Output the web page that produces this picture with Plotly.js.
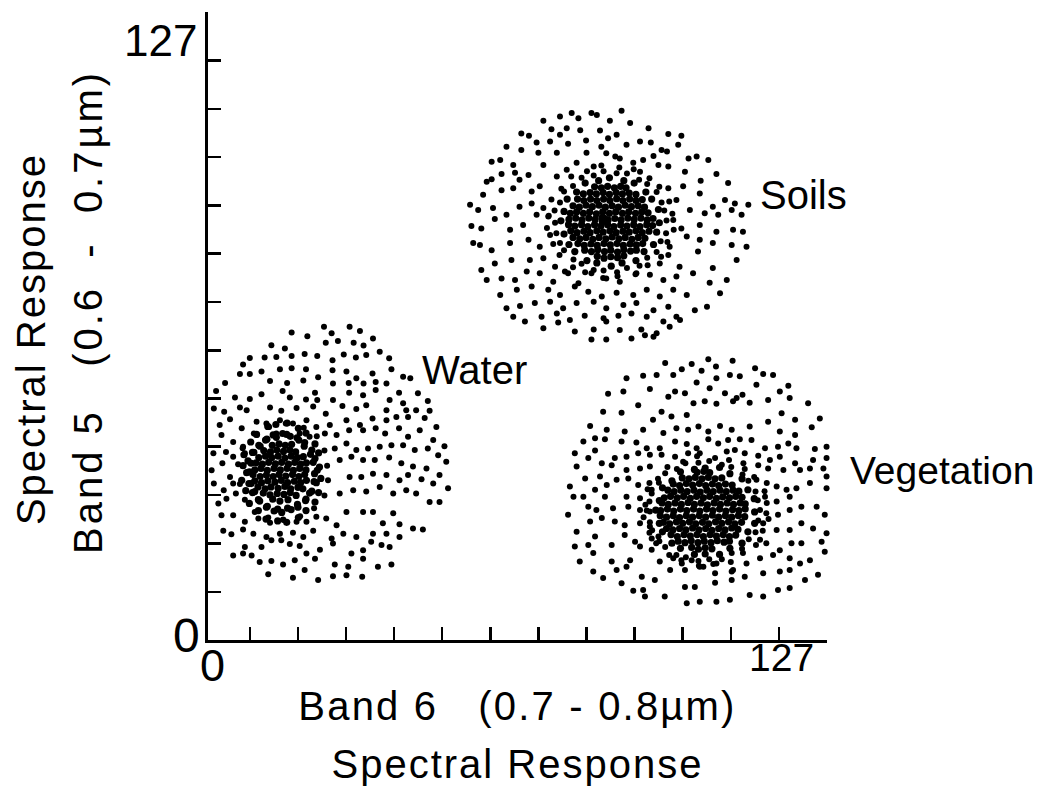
<!DOCTYPE html>
<html><head><meta charset="utf-8">
<script src="https://cdn.plot.ly/plotly-3.0.1.min.js"></script>
<style>html,body{margin:0;padding:0;background:#fff}</style>
</head><body><div id="chart" style="width:1047px;height:796px"></div>
<script>
const categories = ['Water', 'Soils', 'Vegetation'];

const waterOuterPoints = [
[25.8,66.3],[31.5,66.3],[33.8,65.4],[18.6,65.1],[22.1,64.3],[27.5,64.9],[36.7,63.8],[26.2,62.9],[28.9,63.3],[32.4,62.9],[34.6,62.3],[14.1,62.4],[17.1,61.7],[38.2,61.0],[9.3,59.7],[12.6,59.8],[15.2,59.9],[18.6,60.1],[21.5,60.5],[24.3,60.1],[27.7,59.2],[30.2,60.4],[32.9,59.8],[35.2,60.3],[40.3,59.6],[7.8,58.3],[11.9,56.8],[16.0,57.3],[18.6,57.5],[21.8,57.3],[24.5,55.6],[27.7,57.1],[30.8,56.8],[33.0,55.4],[36.6,56.4],[40.8,57.3],[43.4,55.7],[45.0,55.4],[3.8,54.4],[7.1,56.3],[9.3,56.3],[13.8,54.8],[17.6,54.4],[21.2,54.9],[27.8,54.3],[31.3,54.4],[34.6,54.3],[37.3,54.6],[39.7,54.3],[1.8,52.7],[6.0,51.3],[9.3,51.0],[11.9,52.0],[16.6,52.7],[18.2,51.3],[21.8,50.9],[23.8,52.3],[24.3,50.8],[27.8,50.8],[31.4,52.3],[34.5,51.8],[37.3,52.9],[40.4,50.8],[42.5,52.3],[46.7,52.2],[48.9,50.6],[1.3,49.0],[3.6,48.3],[7.1,49.2],[8.6,48.6],[13.8,49.2],[16.3,48.5],[19.7,49.1],[23.4,49.4],[26.2,47.9],[29.9,49.5],[33.0,48.9],[35.2,49.7],[39.7,48.6],[43.4,50.1],[44.1,48.6],[46.3,48.6],[49.3,48.5],[2.6,45.5],[4.9,46.7],[7.5,44.8],[10.8,46.2],[13.0,45.8],[16.0,46.5],[18.9,45.8],[21.9,46.5],[24.1,45.1],[27.1,45.5],[30.8,46.5],[33.8,45.5],[36.6,46.9],[39.7,46.5],[41.9,47.2],[44.5,47.2],[48.2,47.0],[50.8,45.1],[3.0,43.4],[5.6,41.9],[7.8,40.9],[10.8,43.4],[15.2,43.7],[20.4,43.7],[22.6,43.0],[26.0,43.7],[28.6,43.4],[31.4,44.4],[34.5,44.4],[37.3,44.8],[39.4,43.7],[42.5,44.8],[44.5,43.0],[47.1,44.4],[50.1,42.3],[52.6,41.0],[1.2,39.5],[4.0,39.8],[5.6,38.8],[8.2,39.5],[28.2,40.5],[30.8,41.6],[33.0,40.2],[35.6,40.5],[38.2,40.9],[40.8,41.2],[43.4,41.2],[46.0,40.2],[48.9,40.5],[51.2,39.1],[53.0,37.7],[0.8,35.9],[3.2,37.4],[4.9,34.5],[29.3,38.1],[31.9,38.8],[34.5,38.1],[37.1,38.1],[40.3,38.6],[43.0,37.4],[45.6,36.7],[48.6,36.3],[51.5,34.9],[1.3,33.1],[3.5,31.7],[5.6,33.1],[31.5,34.5],[34.1,34.5],[36.7,35.2],[39.7,34.9],[42.6,33.8],[44.5,34.9],[47.5,34.0],[50.1,33.1],[53.4,32.1],[2.3,28.9],[4.1,29.9],[6.2,31.0],[29.3,31.0],[32.3,31.7],[35.2,31.4],[38.2,32.4],[41.2,31.0],[44.1,31.7],[46.3,31.0],[49.3,29.2],[51.5,29.2],[3.0,26.4],[5.6,26.4],[8.2,25.0],[11.2,25.7],[13.8,24.8],[16.7,25.5],[19.7,25.0],[21.9,25.0],[24.1,26.1],[26.3,25.7],[28.6,24.3],[30.8,27.1],[34.5,27.1],[36.7,27.1],[38.9,24.7],[41.2,26.8],[42.6,24.5],[45.6,23.6],[47.8,23.4],[3.4,23.1],[5.2,22.4],[7.8,23.4],[10.1,22.5],[13.0,21.8],[16.0,22.5],[18.9,22.7],[21.2,21.8],[23.4,23.1],[27.5,21.5],[30.1,22.5],[33.0,21.8],[36.7,22.5],[39.7,22.5],[42.6,21.8],[5.6,17.9],[8.2,19.7],[11.9,19.7],[14.1,21.1],[16.3,21.1],[18.2,20.3],[20.4,19.9],[24.9,19.1],[27.8,20.4],[31.9,18.3],[34.5,19.0],[36.3,20.8],[38.6,20.1],[40.4,19.7],[7.8,18.3],[9.7,17.9],[11.5,16.5],[14.1,16.7],[16.7,16.0],[19.3,16.9],[21.9,18.3],[23.8,17.2],[28.2,16.0],[31.2,15.5],[34.5,17.2],[37.8,15.5],[40.8,16.0],[13.4,13.9],[18.9,13.2],[21.5,14.8],[24.5,12.7],[27.8,13.5],[30.8,13.7],[34.3,13.4],
[26.5,36.9],[25.9,40.1],[24.2,43.1],[21.3,44.9],[17.3,45.8],[13.6,45.1],[10.2,43.7],[7.7,40.6],[6.7,37.2],[7.1,33.0],[8.2,29.7],[10.4,27.1],[13.4,25.9],[16.8,25.4],[20.5,26.2],[23.6,27.9],[25.9,30.6],[26.7,33.8]
];

const waterCorePoints = [
[24.3,35.9],[23.8,38.4],[23.1,40.2],[21.5,41.8],[19.8,42.8],[17.5,43.5],[15.2,42.9],[13.1,42.5],[11.3,41.2],[9.9,39.7],[8.9,37.9],[8.6,35.4],[9.1,33.1],[9.9,31.2],[11.5,29.4],[13.2,28.3],[15.5,27.7],[17.7,27.9],[19.9,28.7],[21.7,29.5],[23.1,31.5],[24.1,33.3],
[23.7,35.2],[23.4,37.6],[22.8,39.3],[21.4,41.0],[20.2,42.3],[18.3,43.1],[16.6,43.7],[14.5,43.4],[12.8,42.3],[11.6,41.0],[10.2,39.7],[9.6,37.4],[9.2,35.6],[9.6,33.1],[10.4,31.4],[11.2,29.7],[13.0,28.1],[14.7,27.3],[16.4,27.0],[18.5,27.6],[20.0,28.1],[21.8,29.8],[22.6,31.1],[23.6,33.5],
[24.8,36.6],[24.6,39.6],[23.8,41.5],[21.8,43.8],[20.1,44.8],[17.6,45.9],[15.1,45.6],[13.3,45.2],[10.8,43.5],[9.5,41.9],[8.0,39.2],[7.8,36.9],[7.5,33.8],[8.4,31.6],[9.2,28.9],[11.2,27.4],[12.9,25.6],[15.5,25.2],[17.5,24.9],[20.1,25.9],[21.8,27.4],[23.8,29.2],[24.6,31.2],[25.1,34.2],
[14.4,29.8],[16.0,29.4],[17.8,29.7],
[12.3,31.1],[13.8,30.7],[15.4,31.0],[16.9,30.8],[18.3,31.2],[19.6,30.6],
[11.1,32.4],[12.7,32.0],[14.0,32.4],[15.6,32.1],[17.1,32.5],[18.4,32.0],[20.0,32.3],[21.1,32.0],
[10.4,33.7],[11.9,33.3],[13.3,33.7],[14.9,33.4],[16.3,33.8],[17.7,33.3],[19.2,33.6],[20.6,33.3],[21.9,33.8],
[10.0,35.0],[11.6,34.6],[13.0,34.9],[14.5,34.6],[15.8,35.0],[17.3,34.7],[18.8,35.0],[20.2,34.6],[21.5,35.0],
[10.4,36.0],[11.8,36.3],[13.2,35.9],[14.7,36.3],[16.1,36.0],[17.6,36.3],[19.0,35.9],[20.4,36.3],[21.8,36.0],
[10.7,37.5],[12.1,37.2],[13.5,37.6],[15.0,37.3],[16.4,37.6],[17.9,37.2],[19.3,37.6],[20.6,37.2],[21.9,37.5],
[11.3,38.6],[12.8,38.9],[14.2,38.6],[15.6,38.9],[17.1,38.5],[18.5,38.9],[19.9,38.6],[21.2,38.8],
[12.4,40.1],[13.9,39.8],[15.3,40.2],[16.8,39.9],[18.2,40.2],[19.5,39.8],
[14.3,41.2],[15.8,41.5],[17.2,41.2],[18.6,41.4]
];

const soilsOuterPoints = [
[92.0,112.0],[78.3,110.8],[80.9,111.5],[85.3,111.5],[86.5,111.1],[82.4,110.4],[89.4,109.9],[93.9,109.4],[74.6,109.9],[76.4,108.1],[79.8,108.3],[82.8,107.9],[87.2,107.8],[98.0,108.3],[69.7,107.2],[71.4,106.7],[78.3,106.9],[84.1,105.7],[89.0,106.2],[90.9,106.9],[102.4,107.1],[105.3,106.7],[66.4,104.4],[73.1,105.3],[76.1,105.5],[80.1,105.0],[87.5,104.4],[93.1,104.8],[96.1,105.5],[98.5,105.3],[100.9,103.7],[104.6,104.8],[63.1,101.2],[65.0,101.6],[67.9,100.5],[69.7,103.7],[73.5,103.1],[77.6,103.1],[82.0,101.0],[84.2,103.1],[88.6,103.0],[90.6,102.3],[94.6,101.0],[96.8,101.6],[99.1,102.4],[102.1,103.4],[106.9,101.9],[108.7,102.3],[111.3,101.6],[62.0,97.0],[63.1,97.5],[65.3,98.6],[68.3,98.9],[71.3,98.4],[74.6,100.5],[77.6,98.1],[79.8,99.5],[85.8,100.2],[91.6,101.9],[96.1,99.1],[100.2,100.5],[102.4,100.2],[106.1,99.1],[109.6,97.2],[113.1,98.6],[115.7,96.7],[61.2,94.2],[65.3,95.2],[67.9,95.6],[69.3,97.4],[72.0,94.9],[73.8,96.0],[102.4,95.6],[105.7,96.0],[109.4,94.5],[112.3,91.7],[115.0,93.1],[117.2,92.4],[120.2,92.1],[58.3,92.1],[60.1,91.0],[63.4,91.4],[66.4,90.0],[69.3,91.7],[72.0,92.4],[74.6,91.4],[104.2,93.1],[107.2,91.0],[110.5,90.3],[113.5,90.0],[116.5,91.0],[118.7,90.0],[58.6,87.6],[60.8,87.1],[63.8,89.1],[67.2,86.8],[70.1,87.8],[73.1,90.0],[75.7,89.6],[103.5,88.9],[105.3,87.1],[109.4,87.8],[113.1,86.4],[116.8,86.8],[119.0,86.4],[59.0,84.0],[60.5,83.6],[63.1,82.5],[67.2,84.0],[71.3,84.7],[73.8,83.2],[76.1,85.7],[102.7,83.2],[106.5,85.4],[109.4,84.7],[112.3,84.0],[116.5,83.6],[119.8,83.2],[60.8,78.3],[63.8,79.7],[67.5,80.4],[71.6,80.4],[74.6,80.8],[77.2,79.0],[80.1,77.6],[100.5,79.7],[102.4,81.5],[104.9,79.0],[109.0,82.2],[112.3,78.7],[117.6,80.4],[62.0,76.2],[65.3,76.5],[68.3,76.2],[70.9,78.0],[73.8,77.6],[76.8,75.8],[79.4,78.0],[82.4,75.5],[85.3,77.6],[88.6,76.5],[91.6,75.8],[95.3,77.6],[98.3,77.3],[101.3,76.2],[104.2,76.9],[107.9,77.6],[111.6,75.6],[115.4,76.2],[65.0,73.0],[68.7,74.1],[72.0,74.8],[75.7,74.1],[78.3,73.0],[81.6,74.8],[84.6,73.7],[87.6,72.7],[90.9,73.5],[94.6,73.0],[97.6,74.1],[100.5,72.7],[103.5,74.1],[106.5,73.0],[111.0,70.5],[113.9,73.4],[66.4,70.2],[69.4,70.7],[72.7,71.3],[76.1,71.6],[79.0,70.2],[82.0,71.3],[85.8,71.6],[88.6,70.2],[92.4,70.9],[95.3,71.3],[99.1,69.8],[102.4,70.5],[108.3,69.8],[67.9,68.4],[70.5,67.4],[74.2,68.4],[77.6,69.1],[80.5,67.7],[83.8,68.6],[88.0,68.1],[91.3,68.6],[94.2,69.1],[97.6,68.4],[101.3,67.4],[104.2,68.4],[74.6,66.0],[77.9,67.2],[81.6,65.3],[85.8,65.7],[88.6,67.4],[91.6,65.6],[96.4,65.7],[99.8,64.9],[102.7,66.3],[85.3,63.6],[88.6,63.6],[94.2,63.8],[97.2,64.5],[99.1,64.2],[105.0,67.7],
[102.0,88.8],[101.5,90.9],[100.9,92.6],[99.8,94.8],[97.7,96.5],[95.9,97.4],[93.2,98.7],[90.9,98.8],[88.0,99.2],[85.8,98.3],[83.1,97.8],[81.2,96.1],[79.2,94.9],[78.3,92.6],[77.1,90.9],[77.2,88.3],[77.5,86.1],[78.3,84.0],[79.2,82.5],[81.3,80.5],[83.1,79.6],[85.8,78.3],[88.0,78.2],[91.0,77.8],[93.2,78.7],[96.0,79.2],[97.7,80.9],[99.8,82.1],[100.7,84.4],[101.9,86.1],
[103.3,90.2],[102.6,92.8],[100.4,95.9],[98.2,97.7],[94.7,99.6],[91.5,100.0],[87.5,100.4],[84.3,99.2],[80.8,98.1],[78.6,95.5],[76.4,93.2],[75.8,89.8],[75.4,87.2],[76.8,83.8],[78.2,81.5],[81.2,78.9],[83.9,77.8],[87.9,76.6],[91.1,77.0],[95.1,77.4],[97.8,79.3],[100.8,81.1],[102.2,84.2],[103.6,86.8]
];

const soilsCorePoints = [
[100.4,88.3],[100.2,91.1],[98.7,93.3],[97.4,94.8],[94.8,96.7],[92.5,97.2],[89.3,97.8],[86.9,97.2],[83.9,96.7],[82.0,94.8],[79.9,93.3],[79.2,90.7],[78.5,88.7],[79.2,85.9],[80.3,83.7],[81.6,82.2],[84.3,80.3],[86.5,79.8],[89.7,79.1],[92.1,79.8],[95.2,80.3],[97.0,82.2],[99.1,83.7],[99.8,86.3],
[86.6,81.2],[88.1,80.8],[89.6,81.1],[91.1,80.9],[92.5,81.3],
[83.8,82.5],[85.3,82.2],[86.7,82.6],[88.2,82.2],[89.6,82.5],[91.1,82.1],[92.5,82.6],[94.0,82.3],[95.3,82.5],
[82.3,83.9],[83.7,83.5],[85.2,83.8],[86.6,83.5],[88.1,83.9],[89.5,83.6],[91.0,83.9],[92.4,83.5],[93.9,83.8],[95.3,83.6],[96.7,83.9],
[81.2,85.2],[82.7,84.9],[84.1,85.2],[85.6,84.8],[87.0,85.2],[88.5,84.9],[89.9,85.3],[91.4,84.9],[92.8,85.2],[94.3,84.8],[95.7,85.2],[97.2,85.0],
[80.7,86.6],[82.1,86.2],[83.6,86.5],[85.0,86.2],[86.5,86.6],[87.9,86.3],[89.4,86.6],[90.8,86.2],[92.3,86.5],[93.7,86.3],[95.2,86.6],[96.6,86.2],[98.1,86.5],
[80.2,87.9],[81.6,87.6],[83.1,87.9],[84.5,87.5],[86.0,87.9],[87.4,87.6],[88.9,87.9],[90.3,87.5],[91.8,87.8],[93.2,87.6],[94.7,87.9],[96.1,87.5],[97.6,87.9],[98.9,87.7],
[80.3,89.0],[81.8,89.3],[83.2,88.9],[84.7,89.3],[86.1,89.0],[87.6,89.3],[89.0,88.9],[90.5,89.2],[91.9,88.9],[93.4,89.3],[94.8,89.0],[96.3,89.3],[97.7,88.9],[99.0,89.2],
[80.6,90.3],[82.0,90.6],[83.5,90.3],[84.9,90.6],[86.4,90.2],[87.8,90.6],[89.3,90.3],[90.7,90.6],[92.2,90.3],[93.6,90.6],[95.1,90.3],[96.5,90.6],[97.9,90.4],
[81.2,91.9],[82.6,91.6],[84.1,92.0],[85.5,91.7],[87.0,92.0],[88.4,91.6],[89.9,91.9],[91.3,91.6],[92.8,92.0],[94.2,91.7],[95.7,91.9],[97.1,91.6],
[82.2,93.3],[83.6,93.0],[85.1,93.3],[86.5,93.0],[88.0,93.3],[89.4,93.0],[90.9,93.4],[92.3,93.0],[93.8,93.3],[95.2,93.0],[96.6,93.2],
[83.5,94.4],[85.0,94.7],[86.4,94.4],[87.9,94.7],[89.3,94.3],[90.8,94.7],[92.2,94.4],[93.7,94.6],[95.2,94.3],
[86.0,95.9],[87.5,95.7],[88.9,96.0],[90.4,95.7],[91.8,96.0],[93.0,95.7],
[87.7,88.6],[88.3,89.1],[87.9,89.4],[88.4,88.6]
];

const vegetationOuterPoints = [
[111.3,59.4],[116.7,59.1],[101.7,58.6],[107.6,58.4],[113.0,57.9],[105.4,57.3],[109.8,57.0],[121.7,57.5],[123.5,56.3],[125.7,56.1],[93.1,55.4],[96.8,55.9],[99.8,56.1],[103.5,56.1],[113.1,55.4],[116.1,56.1],[118.3,55.8],[108.7,54.5],[122.0,54.0],[129.1,53.8],[89.0,52.1],[92.4,52.6],[98.3,53.1],[102.4,51.5],[103.9,52.6],[106.1,52.2],[111.6,53.3],[115.0,52.2],[117.6,51.2],[118.9,51.9],[127.2,52.6],[129.4,51.2],[133.5,50.1],[87.9,48.3],[92.0,48.1],[95.7,49.7],[100.9,48.3],[103.1,47.3],[106.5,47.6],[108.0,50.1],[110.5,50.5],[113.1,50.0],[116.8,50.5],[120.5,50.2],[124.6,50.8],[127.6,48.0],[130.6,46.6],[136.1,46.9],[85.0,45.3],[88.7,44.5],[92.7,44.1],[96.8,44.5],[99.0,46.6],[101.3,43.8],[104.2,44.8],[106.8,44.5],[109.1,45.2],[111.3,44.1],[113.9,45.3],[116.5,44.5],[120.5,45.2],[124.6,46.2],[127.2,44.1],[130.6,43.4],[134.3,45.0],[83.5,42.0],[86.1,42.7],[88.3,42.5],[92.0,42.0],[95.3,41.8],[97.6,40.6],[100.5,40.6],[103.9,42.0],[106.5,41.5],[108.7,40.6],[111.3,42.5],[113.5,41.6],[115.7,42.3],[118.3,42.5],[120.9,42.3],[123.9,40.6],[126.8,40.9],[129.1,41.6],[130.9,40.6],[135.0,40.4],[137.6,40.9],[81.6,39.5],[86.1,40.1],[90.5,38.5],[93.1,38.8],[95.7,39.5],[98.3,39.2],[100.9,39.2],[103.9,38.8],[106.8,39.5],[109.4,39.5],[115.4,39.9],[117.2,40.2],[119.4,39.5],[122.4,39.0],[125.0,38.1],[127.2,38.8],[130.6,37.4],[134.6,38.1],[137.6,38.5],[82.0,36.7],[84.6,38.5],[87.6,37.4],[89.8,37.0],[93.1,36.0],[96.1,36.3],[98.3,36.7],[119.1,37.4],[122.4,37.0],[124.6,36.3],[128.0,36.0],[131.7,36.0],[133.9,36.3],[136.9,36.3],[139.1,36.7],[80.5,32.5],[83.9,34.2],[87.2,34.6],[88.7,32.8],[90.9,33.9],[93.5,34.2],[95.7,32.8],[98.2,33.2],[122.0,33.9],[124.3,33.2],[126.5,32.5],[128.7,31.8],[130.9,32.1],[133.9,33.2],[137.6,34.6],[81.3,30.3],[83.5,30.3],[86.1,31.8],[88.3,30.3],[93.1,30.3],[96.1,30.0],[98.7,31.0],[123.9,30.3],[126.5,29.3],[129.4,30.3],[132.0,28.2],[135.4,28.2],[137.6,32.1],[140.6,31.8],[80.1,26.5],[84.6,28.2],[86.4,27.5],[90.1,27.9],[93.5,28.2],[96.1,27.5],[98.3,27.2],[124.2,26.8],[126.8,26.5],[129.4,27.5],[132.0,24.7],[137.2,26.5],[141.3,26.8],[82.0,22.9],[85.0,25.1],[87.6,25.8],[90.5,25.1],[92.7,24.3],[96.1,24.7],[98.3,24.0],[123.5,24.7],[126.5,23.3],[129.4,23.3],[134.6,23.6],[137.6,22.6],[139.1,23.3],[81.6,19.8],[84.6,20.1],[86.1,21.9],[89.8,20.1],[92.7,22.2],[95.0,20.8],[98.7,21.5],[100.2,21.9],[122.8,21.2],[124.2,20.5],[127.2,19.0],[129.8,20.5],[132.0,20.5],[136.5,20.8],[139.4,20.1],[82.7,16.6],[85.7,18.4],[89.8,16.6],[93.9,16.9],[96.1,19.8],[98.7,19.1],[100.5,16.6],[103.5,17.3],[105.4,16.2],[107.6,16.9],[110.2,15.5],[113.1,16.2],[116.8,14.8],[119.8,16.2],[122.8,17.3],[125.7,18.0],[129.4,17.3],[131.7,16.2],[133.9,16.9],[137.2,18.7],[85.7,14.5],[87.9,13.1],[90.9,14.8],[93.1,15.5],[96.5,13.4],[99.4,12.7],[102.8,14.8],[106.1,14.8],[109.4,15.5],[112.8,14.1],[116.5,14.5],[119.4,13.4],[123.5,14.1],[127.2,14.5],[129.4,14.8],[132.8,12.7],[135.7,13.8],[92.0,12.0],[94.6,10.4],[96.8,10.6],[101.6,9.2],[106.1,11.2],[108.3,11.2],[112.8,12.1],[116.5,12.7],[113.1,8.1],[106.5,7.8],[109.4,8.1],[116.1,8.5],[120.5,9.5],[123.5,9.2],[126.8,10.6],[129.4,11.0],[97.2,9.2],
[122.8,27.5],[122.3,29.6],[121.8,31.4],[120.2,33.7],[118.9,35.0],[116.4,36.6],[114.3,37.1],[111.5,37.9],[109.1,37.5],[106.2,37.4],[104.3,36.2],[101.7,35.3],[100.3,33.3],[98.7,31.8],[98.2,29.3],[97.6,27.4],[98.3,24.9],[98.8,23.2],[100.4,20.9],[101.7,19.7],[104.2,18.0],[106.3,17.5],[109.1,16.7],[111.5,17.1],[114.3,17.1],[116.5,18.4],[118.8,19.3],[120.3,21.3],[121.8,22.8],[122.4,25.3],
[124.3,29.0],[123.8,31.5],[121.5,34.5],[119.4,36.2],[115.9,38.1],[112.8,38.5],[108.8,38.9],[105.7,37.7],[102.2,36.6],[100.1,34.1],[97.8,31.9],[97.3,28.6],[96.9,26.0],[98.2,22.7],[99.7,20.5],[102.6,18.0],[105.3,16.9],[109.2,15.7],[112.4,16.1],[116.3,16.5],[119.0,18.4],[121.9,20.1],[123.4,23.1],[124.7,25.6]
];

const vegetationCorePoints = [
[121.6,27.1],[121.5,29.9],[120.1,31.8],[118.8,34.1],[116.1,35.2],[113.8,36.5],[110.6,36.4],[108.2,36.1],[105.1,35.6],[103.2,33.7],[101.1,32.2],[100.4,29.5],[99.6,27.5],[100.4,24.7],[101.1,22.9],[103.2,20.5],[105.1,19.4],[108.2,18.1],[110.6,18.2],[113.8,18.1],[116.1,19.4],[118.8,20.5],[120.1,22.9],[121.6,24.7],
[107.6,19.6],[109.1,19.2],[110.6,19.5],[112.1,19.3],
[104.6,20.9],[106.1,20.6],[107.5,21.0],[109.0,20.6],[110.4,20.9],[111.9,20.6],[113.3,21.0],[114.8,20.7],[116.0,20.9],
[103.0,22.3],[104.4,21.9],[105.9,22.3],[107.3,22.0],[108.8,22.3],[110.2,21.9],[111.7,22.3],[113.1,22.0],[114.6,22.3],[116.0,21.9],[117.4,22.2],
[102.0,23.6],[103.4,23.3],[104.9,23.6],[106.3,23.3],[107.8,23.7],[109.2,23.3],[110.7,23.6],[112.1,23.2],[113.6,23.6],[115.0,23.3],[116.5,23.7],[117.9,23.4],
[101.3,24.9],[102.7,24.6],[104.2,25.0],[105.6,24.7],[107.1,25.0],[108.5,24.6],[110.0,24.9],[111.4,24.6],[112.9,25.0],[114.3,24.7],[115.8,25.0],[117.2,24.6],[118.7,24.9],
[100.6,26.3],[102.0,26.0],[103.5,26.3],[104.9,25.9],[106.4,26.3],[107.8,26.0],[109.3,26.3],[110.7,26.0],[112.2,26.4],[113.6,26.0],[115.1,26.3],[116.5,26.0],[118.0,26.3],[119.4,26.1],
[100.7,27.4],[102.2,27.7],[103.6,27.3],[105.1,27.7],[106.5,27.4],[108.0,27.7],[109.4,27.3],[110.9,27.7],[112.3,27.4],[113.8,27.7],[115.2,27.3],[116.7,27.6],[118.1,27.4],[119.5,27.7],
[101.0,29.0],[102.4,28.7],[103.9,29.0],[105.3,28.7],[106.8,29.1],[108.2,28.7],[109.7,29.0],[111.1,28.6],[112.6,29.0],[114.0,28.7],[115.5,29.0],[116.9,28.7],[118.4,29.0],[119.5,28.8],
[101.5,30.1],[102.9,30.4],[104.4,30.1],[105.8,30.4],[107.3,30.0],[108.7,30.4],[110.2,30.1],[111.6,30.4],[113.1,30.0],[114.5,30.3],[116.0,30.1],[117.4,30.4],[118.8,30.2],
[102.3,31.7],[103.7,31.4],[105.2,31.7],[106.6,31.4],[108.1,31.7],[109.5,31.3],[111.0,31.7],[112.4,31.4],[113.9,31.7],[115.3,31.4],[116.8,31.7],[118.1,31.5],
[103.5,33.0],[104.9,32.7],[106.4,33.1],[107.8,32.8],[109.3,33.1],[110.7,32.7],[112.2,33.0],[113.6,32.7],[115.1,33.0],[116.6,32.8],
[105.5,34.3],[107.0,34.1],[108.4,34.4],[109.9,34.1],[111.3,34.4],[112.8,34.1],[114.3,34.3],
[108.8,35.5],[110.3,35.7],[111.6,35.4]
];

const xTickVals = [9.3, 20.0, 30.7, 41.4, 52.1, 62.8, 73.5, 84.2, 94.9, 105.6, 116.3, 127.0, 137.6];
const yTickVals = [10.2, 20.4, 30.7, 40.9, 51.1, 61.3, 71.5, 81.8, 92.0, 102.2, 112.4, 122.6, 132.8];
const axisEndLabels = ['0', '127'];
const xBandText = 'Band 6';
const xRangeText = '(0.7\u00a0-\u00a00.8\u00b5m)';
const yBandText = 'Band 5';
const yRangeText = '(0.6\u00a0\u00a0-\u00a0\u00a00.7\u00b5m)';
const responseText = 'Spectral Response';

const SANS = '"Liberation Sans", Arial, Helvetica, sans-serif';

const outerSeries = [waterOuterPoints, soilsOuterPoints, vegetationOuterPoints];
const coreSeries = [waterCorePoints, soilsCorePoints, vegetationCorePoints];
function makeTrace(pts, name, size) {
  return {
    type: 'scatter', mode: 'markers', name: name,
    x: pts.map(p => p[0]), y: pts.map(p => p[1]),
    marker: {color: '#000', size: size},
    cliponaxis: false, hoverinfo: 'skip'
  };
}
const traces = [];
categories.forEach((c, i) => {
  traces.push(makeTrace(outerSeries[i], c, 6));
  traces.push(makeTrace(coreSeries[i], c, 7.2));
});

function span(t, size, ls) {
  return '<span style="font-size:' + size + 'px;letter-spacing:' + ls + 'px">' + t + '</span>';
}
const NB = '\u00a0';

const xTitle = span(xBandText + NB + NB + ' ' + xRangeText, 40, 2.2) +
  '<br>' + span(responseText, 40, 2);
const yTitle = span(responseText + NB + NB, 40, 2) +
  '<br>' + span(NB + NB + yBandText + NB + NB + ' ' + yRangeText, 40, 3);

const axisCommon = {
  showline: true, linewidth: 3, linecolor: '#000', mirror: false,
  ticks: 'inside', ticklen: 13, tickwidth: 2.5, tickcolor: '#000',
  tickmode: 'array', showticklabels: false,
  showgrid: false, zeroline: false, fixedrange: true, automargin: false
};

const layout = {
  width: 1047, height: 796,
  margin: {l: 208, r: 220, t: 12, b: 156, pad: 0},
  paper_bgcolor: '#fff', plot_bgcolor: '#fff',
  showlegend: false,
  font: {family: SANS, color: '#000'},
  xaxis: Object.assign({}, axisCommon, {
    range: [0, 137.7], tickvals: xTickVals,
    title: {text: xTitle, font: {family: SANS, size: 44, color: '#000'}, standoff: 48}
  }),
  yaxis: Object.assign({}, axisCommon, {
    range: [0, 132.9], tickvals: yTickVals,
    title: {text: yTitle, font: {family: SANS, size: 44, color: '#000'}, standoff: 89}
  }),
  annotations: [
    {xref: 'paper', yref: 'paper', x: -0.0355, y: 0.0064, text: axisEndLabels[0], showarrow: false, xanchor: 'center', yanchor: 'middle', font: {family: SANS, size: 48, color: '#000'}},
    {xref: 'paper', yref: 'paper', x: -0.0775, y: 0.9554, text: axisEndLabels[1], showarrow: false, xanchor: 'center', yanchor: 'middle', font: {family: SANS, size: 44, color: '#000'}},
    {xref: 'paper', yref: 'paper', x: 0.0065, y: -0.0414, text: axisEndLabels[0], showarrow: false, xanchor: 'center', yanchor: 'middle', font: {family: SANS, size: 45, color: '#000'}},
    {xref: 'paper', yref: 'paper', x: 0.9257, y: -0.0271, text: axisEndLabels[1], showarrow: false, xanchor: 'center', yanchor: 'middle', font: {family: SANS, size: 39, color: '#000'}},
    {xref: 'paper', yref: 'paper', x: 0.3425, y: 0.4299, text: categories[0], showarrow: false, xanchor: 'left', yanchor: 'middle', font: {family: SANS, size: 40, color: '#000'}},
    {xref: 'paper', yref: 'paper', x: 0.8885, y: 0.7086, text: categories[1], showarrow: false, xanchor: 'left', yanchor: 'middle', font: {family: SANS, size: 40, color: '#000'}},
    {xref: 'paper', yref: 'paper', x: 1.0339, y: 0.2707, text: categories[2], showarrow: false, xanchor: 'left', yanchor: 'middle', font: {family: SANS, size: 39, color: '#000'}}
  ]
};

Plotly.newPlot('chart', traces, layout, {staticPlot: true, displayModeBar: false});
</script>
</body></html>
